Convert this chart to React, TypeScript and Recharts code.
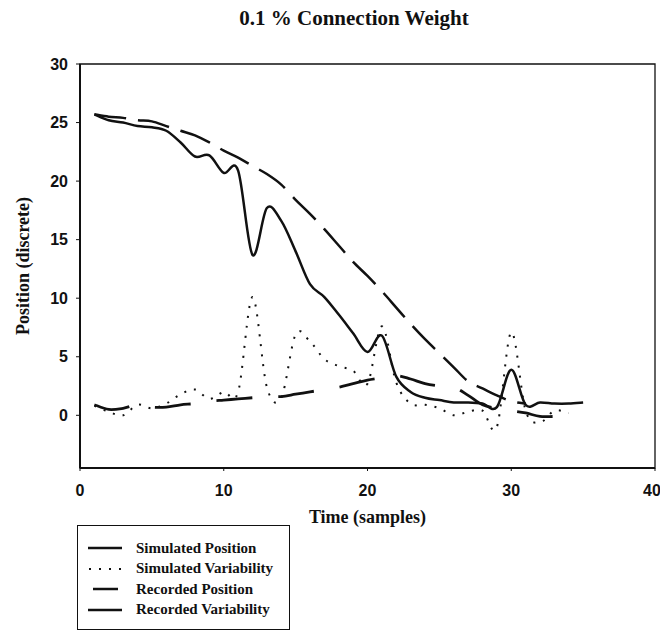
import { Legend, Line, LineChart, ReferenceArea, XAxis, YAxis } from "recharts";

// samples along the time axis
const samples = [1, 2, 3, 4, 5, 6, 7, 8, 9, 10, 11, 12, 13, 14, 15, 16, 17, 18, 19, 20, 21, 22, 23, 24, 25, 26, 27, 28, 29, 30, 31, 32, 33, 34, 35];

const simulatedPosition = [25.7, 25.2, 25.0, 24.7, 24.6, 24.3, 23.3, 22.1, 22.2, 20.7, 20.9, 13.7, 17.7, 16.6, 14.0, 11.2, 10.1, 8.6, 7.0, 5.4, 6.8, 3.3, 2.0, 1.5, 1.3, 1.1, 1.1, 1.0, 0.7, 3.9, 0.9, 1.1, 1.0, 1.0, 1.1];
const simulatedVariability = [0.8, 0.3, 0.0, 0.9, 0.6, 1.0, 1.8, 2.2, 1.4, 2.0, 2.0, 10.1, 2.4, 1.5, 6.9, 6.3, 4.8, 4.2, 3.8, 2.7, 7.6, 2.8, 1.0, 0.9, 0.6, 0.0, 0.3, 0.4, -1.0, 7.1, 0.4, -0.6, 0.4, 0.2];
const recordedPosition = [25.7, 25.5, 25.4, 25.2, 25.1, 24.7, 24.3, 23.9, 23.3, 22.6, 22.0, 21.3, 20.6, 19.7, 18.4, 17.2, 15.9, 14.5, 13.1, 11.9, 10.6, 9.2, 7.8, 6.5, 5.3, 4.1, 2.9, 2.3, 1.7, 1.2, 1.0];
const recordedVariability = [0.9, 0.5, 0.6, 0.9, 0.7, 0.7, 0.9, 1.0, 1.2, 1.3, 1.4, 1.5, 1.6, 1.6, 1.8, 2.0, 2.2, 2.4, 2.7, 3.0, 3.2, 3.4, 3.1, 2.7, 2.5, 2.4, 1.7, 0.9, 0.6, 0.4, 0.2, -0.1, -0.1, -0.1];

const xTicks = [0, 10, 20, 30, 40];
const yTicks = [0, 5, 10, 15, 20, 25, 30];

const rows = samples.map((t, i) => ({
  t,
  simPos: simulatedPosition[i],
  simVar: simulatedVariability[i],
  recPos: recordedPosition[i],
  recVar: recordedVariability[i],
}));

/** Excel-style smoothed line (Catmull-Rom through every point) */
function excelSmooth(context: any) {
  let pts: number[][] = [];
  return {
    areaStart() {},
    areaEnd() {},
    lineStart() {
      pts = [];
    },
    point(x: number, y: number) {
      pts.push([+x, +y]);
    },
    lineEnd() {
      if (!pts.length) return;
      context.moveTo(pts[0][0], pts[0][1]);
      for (let i = 0; i < pts.length - 1; i++) {
        const p0 = pts[Math.max(i - 1, 0)];
        const p1 = pts[i];
        const p2 = pts[i + 1];
        const p3 = pts[Math.min(i + 2, pts.length - 1)];
        context.bezierCurveTo(
          p1[0] + (p2[0] - p0[0]) / 6,
          p1[1] + (p2[1] - p0[1]) / 6,
          p2[0] - (p3[0] - p1[0]) / 6,
          p2[1] - (p3[1] - p1[1]) / 6,
          p2[0],
          p2[1],
        );
      }
    },
  };
}

const serif = '"Liberation Serif", "Times New Roman", serif';
const sans = '"Liberation Sans", Arial, sans-serif';
const ink = "#111";

// legend order and sample look per series
const legendOrder = ["simPos", "simVar", "recPos", "recVar"];
const legendSamples: Record<string, { dash?: string; width: number; from: number; to: number }> = {
  simPos: { width: 2.5, from: 0, to: 34 },
  simVar: { dash: "2 8", width: 2, from: 1, to: 34 },
  recPos: { width: 2.5, from: 5, to: 30 },
  recVar: { width: 2.5, from: 0, to: 34 },
};

function BoxLegend({ payload }: any) {
  const items = [...(payload ?? [])].sort(
    (a: any, b: any) => legendOrder.indexOf(a.dataKey) - legendOrder.indexOf(b.dataKey),
  );
  return (
    <div
      style={{
        width: 213,
        height: 105,
        border: `1.5px solid ${ink}`,
        boxSizing: "border-box",
        paddingTop: 12,
        paddingLeft: 10,
        fontFamily: serif,
        fontWeight: "bold",
        fontSize: 15,
        color: ink,
      }}
    >
      {items.map((p: any) => {
        const s = legendSamples[p.dataKey] ?? { width: 2, from: 0, to: 34 };
        return (
          <div key={p.dataKey} style={{ display: "flex", alignItems: "center", height: 20.5, whiteSpace: "nowrap" }}>
            <svg width={48} height={10} style={{ flex: "none" }}>
              <line x1={s.from} x2={s.to} y1={5} y2={5} stroke={ink} strokeWidth={s.width} strokeDasharray={s.dash} />
            </svg>
            <span>{p.value}</span>
          </div>
        );
      })}
    </div>
  );
}

export default function App() {
  return (
    <div style={{ position: "absolute", left: 0, top: 0, width: 660, height: 632, background: "#fff" }}>
      <div
        style={{
          position: "absolute",
          top: 6,
          left: 354,
          transform: "translateX(-50%)",
          whiteSpace: "nowrap",
          fontFamily: serif,
          fontWeight: "bold",
          fontSize: 21,
          color: ink,
        }}
      >
        0.1 % Connection Weight
      </div>
      <LineChart width={660} height={632} data={rows} margin={{ top: 64, right: 5, bottom: 134, left: 0 }}>
        <ReferenceArea x1={0} x2={40} y1={-4.5} y2={30} fill="none" stroke={ink} strokeWidth={1.3} ifOverflow="extendDomain" />
        <XAxis
          dataKey="t"
          type="number"
          domain={[0, 40]}
          ticks={xTicks}
          height={30}
          axisLine={{ stroke: ink, strokeWidth: 2 }}
          tickLine={{ stroke: ink }}
          tickSize={3}
          tickMargin={14}
          tick={{ fill: ink, fontFamily: sans, fontWeight: "bold", fontSize: 16 }}
          label={{
            value: "Time (samples)",
            position: "bottom",
            offset: 12,
            style: { fontFamily: serif, fontWeight: "bold", fontSize: 18, fill: ink },
          }}
        />
        <YAxis
          type="number"
          domain={[-4.5, 30]}
          ticks={yTicks}
          width={80}
          axisLine={{ stroke: ink, strokeWidth: 2 }}
          tickLine={{ stroke: ink }}
          tickSize={4}
          tickMargin={8}
          tick={{ fill: ink, fontFamily: sans, fontWeight: "bold", fontSize: 16 }}
          label={{
            value: "Position (discrete)",
            angle: -90,
            position: "insideLeft",
            offset: 23,
            style: { textAnchor: "middle", fontFamily: serif, fontWeight: "bold", fontSize: 18, fill: ink },
          }}
        />
        <Line name="Simulated Position" dataKey="simPos" type={excelSmooth as any} stroke={ink} strokeWidth={2.5} dot={false} isAnimationActive={false} />
        <Line name="Simulated Variability" dataKey="simVar" type={excelSmooth as any} stroke={ink} strokeWidth={2} strokeDasharray="2 8" dot={false} isAnimationActive={false} />
        <Line name="Recorded Position" dataKey="recPos" type={excelSmooth as any} stroke={ink} strokeWidth={2.5} strokeDasharray="32 12" dot={false} isAnimationActive={false} />
        <Line name="Recorded Variability" dataKey="recVar" type={excelSmooth as any} stroke={ink} strokeWidth={2.8} strokeDasharray="36 26" dot={false} isAnimationActive={false} />
        <Legend
          layout="vertical"
          align="center"
          verticalAlign="middle"
          wrapperStyle={{ left: 77, top: 525, width: 213, height: 105 }}
          content={<BoxLegend />}
        />
      </LineChart>
    </div>
  );
}
